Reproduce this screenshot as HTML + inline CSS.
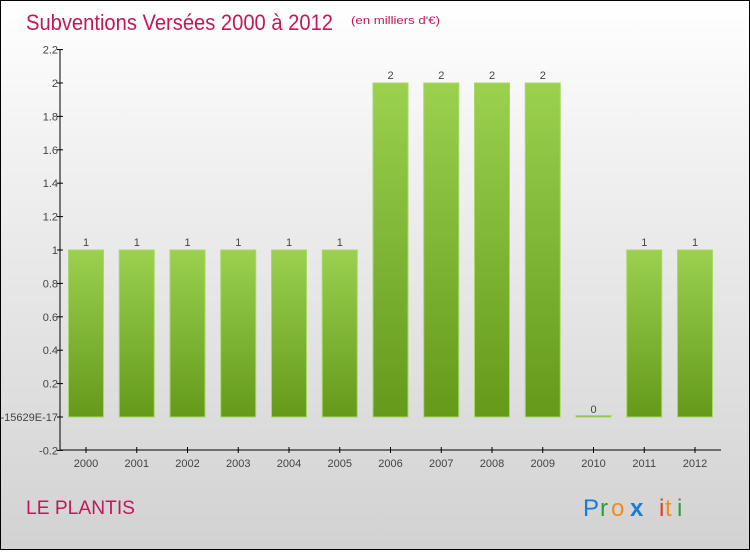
<!DOCTYPE html>
<html><head><meta charset="utf-8"><style>
html,body{margin:0;padding:0}
body{width:750px;height:550px;overflow:hidden;font-family:"Liberation Sans",sans-serif}
#wrap{position:relative;width:748px;height:548px;border:1px solid #000;background:linear-gradient(#ffffff,#f0f0f0 30%,#d2d2d2)}
</style></head><body>
<div id="wrap">
<svg width="748" height="548" viewBox="1 1 748 548" xmlns="http://www.w3.org/2000/svg">
<defs><linearGradient id="g" x1="0" y1="0" x2="0" y2="1"><stop offset="0" stop-color="#9bd14f"/><stop offset="1" stop-color="#64991a"/></linearGradient></defs>
<text x="26" y="30" font-size="22" fill="#c2185b" textLength="307" lengthAdjust="spacingAndGlyphs">Subventions Versées 2000 à 2012</text>
<text x="351" y="24" font-size="11" fill="#c2185b" textLength="89" lengthAdjust="spacingAndGlyphs">(en milliers d'€)</text>
<text x="26" y="514" font-size="19" fill="#c2185b" textLength="109" lengthAdjust="spacingAndGlyphs">LE PLANTIS</text>
<g font-size="24">
<text x="583" y="516" fill="#1a7bd4">P</text><text x="600" y="516" fill="#2e9c3a">r</text><text x="611" y="516" fill="#f28c1a">o</text><text x="630" y="516" fill="#1a7bd4" font-weight="bold">x</text><text x="659" y="516" fill="#e53b1a">i</text><text x="665" y="516" fill="#f28c1a">t</text><text x="677" y="516" fill="#2e9c3a">i</text></g>
<g id="axes"></g><g id="bars"></g>
</svg></div>
<script>
const years=["2000","2001","2002","2003","2004","2005","2006","2007","2008","2009","2010","2011","2012"];
const values=[1,1,1,1,1,1,2,2,2,2,0,1,1];
const yTicks=[-0.2,0,0.2,0.4,0.6,0.8,1,1.2,1.4,1.6,1.8,2,2.2];
const yTickLabels=["-0.2","-15629E-17","0.2","0.4","0.6","0.8","1","1.2","1.4","1.6","1.8","2","2.2"];
const NS="http://www.w3.org/2000/svg";
const y=v=>417-v*167;
const x=i=>86+i*50.75;
const ax=document.getElementById('axes'),bs=document.getElementById('bars');
function mk(tag,attrs,parent,txt){const e=document.createElementNS(NS,tag);for(const k in attrs)e.setAttribute(k,attrs[k]);if(txt!==undefined)e.textContent=txt;parent.appendChild(e);return e;}
let l=mk('line',{x1:60,y1:50,x2:60,y2:450,stroke:'#000','stroke-width':1},ax);


l=mk('line',{x1:60,y1:450,x2:721,y2:450,stroke:'#000','stroke-width':1},ax);


yTicks.forEach((t,i)=>{
 mk('line',{x1:57,y1:y(t),x2:63,y2:y(t),stroke:'#000'},ax);
 const tx=mk('text',{x:58,y:y(t)+4,'font-size':11,fill:'#444','text-anchor':'end'},ax,yTickLabels[i]);
 
 
});
years.forEach((yr,i)=>{
 mk('line',{x1:x(i),y1:447,x2:x(i),y2:453,stroke:'#000'},ax);
 const tx=mk('text',{x:x(i),y:467,'font-size':11,fill:'#444','text-anchor':'middle'},ax,yr);
 
 
 const v=values[i];
 const top=y(v),h=Math.max(y(0)-top,1.5);
 const r=mk('rect',{x:x(i)-17.5,y:Math.min(top,y(0)-1.5),width:35,height:h,fill:'url(#g)',stroke:'#a8d868','stroke-width':1},bs);
 
 
 const lb=mk('text',{x:x(i),y:Math.min(top,y(0))-4,'font-size':11,fill:'#444','text-anchor':'middle'},bs,String(v));
 
 
});
</script>
</body></html>
